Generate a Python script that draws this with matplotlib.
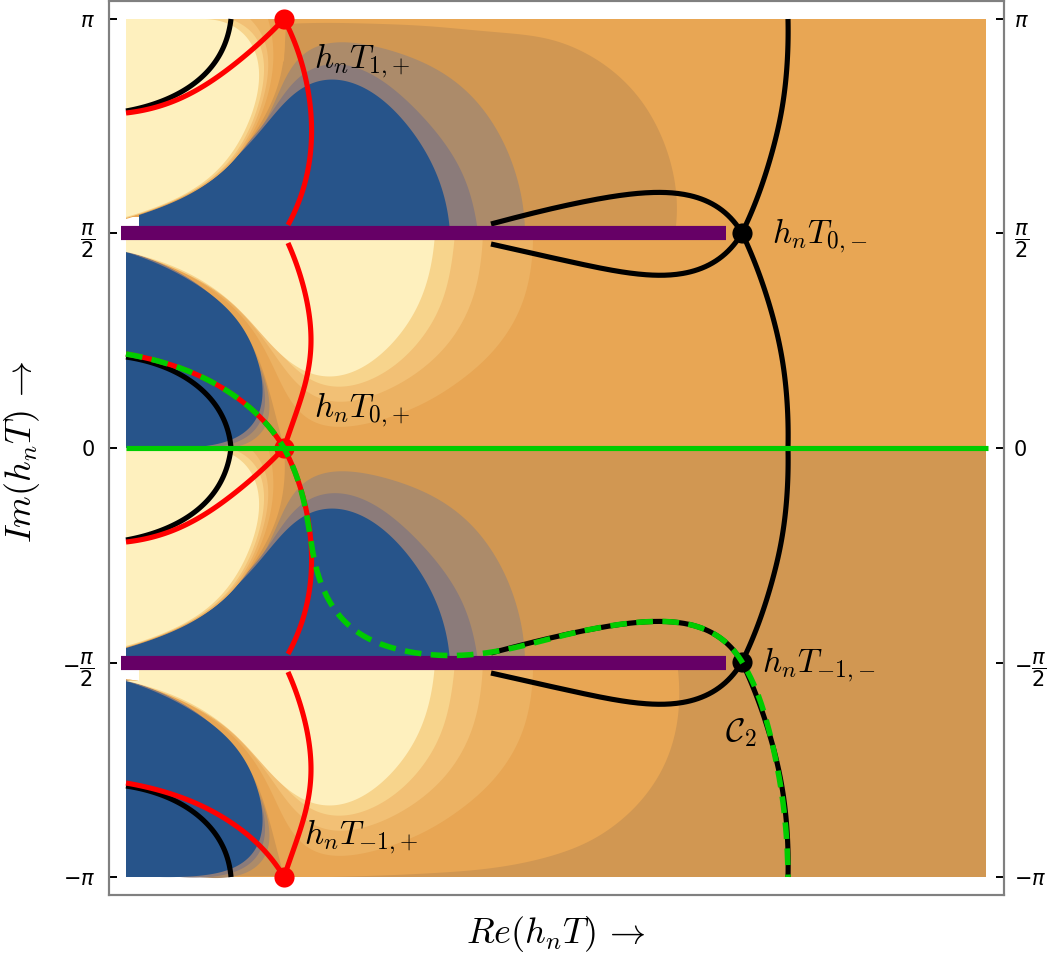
import numpy as np
import matplotlib
matplotlib.use('Agg')
import matplotlib.pyplot as plt

plt.rcParams['mathtext.fontset'] = 'cm'

# everything below: Re along x, Im as a reading that im() turns into radians
STRIP = 429  # one period in Im, the lower strip repeats the upper one

# upper half of a strip, above the cut
dark_up_x = [675, 678, 669, 644, 607, 553, 480, 433, 350, 300, 286]
dark_up_y = [233, 204, 153, 102, 65, 38, 31, 26, 23, 23, 24]
tan_up_x = [525, 523, 507, 477, 440, 400, 367, 333, 310, 293, 280, 263, 240]
tan_up_y = [233, 200, 147, 100, 70, 53, 45, 42, 47, 62, 93, 127, 155]
gray_up_x = [478, 467, 443, 410, 377, 350, 330, 300, 287, 267, 240]
gray_up_y = [233, 180, 140, 103, 77, 65, 63, 73, 90, 122, 150]
blue_up_x = [450, 447, 437, 417, 387, 360, 330, 307, 287, 267, 233, 200, 167, 139]
blue_up_y = [233, 207, 173, 137, 103, 85, 78, 83, 100, 125, 160, 187, 203, 212]
wedge_up_x = [284, 284, 284, 279, 268, 250, 233, 205, 170, 126]
wedge_up_y = [19, 30, 60, 85, 110, 140, 162, 186, 204, 219]
band3_up_x = [268, 273, 273, 267, 255, 235, 207, 170, 126]
band3_up_y = [19, 35, 70, 100, 128, 161, 184, 203, 218]
band2_up_x = [250, 263, 268, 268, 263, 252, 233, 206, 170, 126]
band2_up_y = [19, 32, 50, 70, 100, 130, 161, 183, 203, 218]
band1_up_x = [230, 255, 263, 264, 260, 249, 231, 206, 170, 126]
band1_up_y = [19, 32, 50, 70, 100, 130, 161, 183, 203, 218]
cream_up_x = [200, 228, 245, 256, 260, 256, 245, 228, 205, 170, 126]
cream_up_y = [19, 23, 33, 50, 70, 100, 130, 160, 182, 202, 217]

# lower half of a strip, below the cut
blob_lo_x = [677, 680, 667, 637, 590, 530, 480, 400, 330]
blob_lo_y = [233, 281, 334, 378, 414, 433, 441, 446, 448]
dark_lo_x = [126, 170, 205, 236, 255, 268, 275, 284]
dark_lo_y = [250, 267, 290, 318, 350, 385, 415, 447]
tan_lo_x = [126, 170, 205, 232, 250, 262, 270, 270, 262, 245, 200]
tan_lo_y = [251, 267, 290, 316, 345, 375, 400, 420, 438, 445, 448]
gray_lo_x = [126, 170, 203, 228, 248, 259, 266, 263, 250, 228, 180]
gray_lo_y = [251, 267, 288, 310, 340, 370, 397, 423, 438, 445, 448]
blue_lo_x = [126, 167, 200, 227, 247, 258, 263, 260, 247, 227, 200, 160]
blue_lo_y = [252, 267, 287, 307, 333, 363, 397, 417, 433, 442, 446, 448]
band3_lo_x = [533, 533, 523, 490, 433, 383, 333, 303, 287, 273, 250, 220, 180, 126]
band3_lo_y = [233, 253, 307, 357, 400, 420, 428, 420, 393, 365, 325, 295, 270, 250]
band2_lo_x = [483, 477, 453, 413, 370, 335, 310, 290, 272, 250, 220, 180, 126]
band2_lo_y = [233, 290, 340, 377, 397, 403, 397, 375, 350, 322, 293, 269, 250]
band1_lo_x = [455, 447, 433, 400, 363, 335, 312, 292, 270, 245, 217, 180, 126]
band1_lo_y = [233, 290, 323, 363, 383, 388, 383, 365, 340, 314, 291, 270, 251]
cream_lo_x = [435, 433, 430, 417, 393, 363, 330, 307, 287, 267, 243, 217, 183, 150, 126]
cream_lo_y = [233, 247, 273, 310, 343, 368, 379, 373, 360, 340, 313, 290, 270, 258, 252]

# steepest descent curves
red_a_x = [126, 167, 210, 243, 267, 284]
red_a_y = [113, 105, 83, 57, 37, 19]
red_b_x = [284, 293, 303, 310, 312, 307, 297, 288]
red_b_y = [19, 37, 67, 100, 140, 177, 207, 225]
red_c_x = [288, 300, 308, 312, 308, 300, 288, 284]
red_c_y = [243, 273, 307, 343, 373, 403, 433, 448]
red_d_x = [126, 167, 210, 243, 267, 284]
red_d_y = [354, 363, 380, 402, 423, 448]
black_a_x = [126, 167, 200, 220, 228, 231]
black_a_y = [111, 100, 80, 57, 33, 19]
black_b_x = [126, 167, 200, 220, 229, 231]
black_b_y = [357, 367, 387, 410, 433, 448]
spine_up_x = [788, 788, 783, 772, 757, 742]
spine_up_y = [19, 53, 107, 153, 200, 233]
spine_lo_x = [742, 757, 772, 783, 788, 788]
spine_lo_y = [233, 267, 313, 360, 413, 448]
loop_top_x = [491, 553, 619, 666, 699, 724, 742]
loop_top_y = [224, 208, 195, 192, 197, 210, 233]
loop_bot_x = [491, 553, 619, 670, 706, 728, 742]
loop_bot_y = [244, 258, 272, 276, 268, 252, 233]

# contour C2, dashed on top of the others
c2_a_x = [126, 167, 210, 243, 267, 284]
c2_a_y = [354, 363, 380, 402, 423, 448]
c2_b_x = [284, 293, 304, 308, 312, 317, 327, 340, 353, 373, 397, 420, 447,
          467, 493, 533, 553, 619, 666, 699, 724, 742]
c2_b_y = [448, 466, 500, 520, 550, 573, 597, 617, 630, 642, 648, 654, 656,
          655, 652, 644, 637, 624, 621, 626, 639, 662]
c2_c_x = [742, 754, 763, 772, 779, 785, 787, 788]
c2_c_y = [662, 682, 710, 742, 775, 817, 845, 877]

saddle_x = [284, 284, 284]
saddle_y = [19, 448, 877]
branch_x = [742, 742]
branch_y = [233, 662]

tick_values = [np.pi, np.pi / 2, 0, -np.pi / 2, -np.pi]
tick_labels = [r'$\pi$', r'$\dfrac{\pi}{2}$', '0', r'$-\dfrac{\pi}{2}$', r'$-\pi$']

point_labels = [r'$h_nT_{1,\!+}$', r'$h_nT_{0,\!+}$', r'$h_nT_{-1,\!+}$', r'$h_nT_{0,\!-}$', r'$h_nT_{-1,\!-}$', r'$\mathcal{C}_2$']
label_x = [314, 314, 304, 772, 762, 725]
label_y = [68, 417, 844, 243, 672, 741]

CREAM = '#FEF0BE'
BAND1 = '#F7D48C'
BAND2 = '#F2C075'
BAND3 = '#ECB263'
ORANGE = '#E8A654'
DARK = '#D19752'
TAN = '#AC8B6A'
GRAY = '#8B7B7A'
BLUE = '#27548A'
PURPLE = '#660066'
RED = '#FF0000'
GREEN = '#00CC00'


def im(y):
    return (448 - np.asarray(y, dtype=float)) * np.pi / STRIP


# readings are a few px off, so run a whittaker smoother along the polyline instead of
# passing exactly through them (ends stay where they were read)
def smooth(xs, ys, scale=120):
    xs = np.asarray(xs, dtype=float)
    ys = np.asarray(ys, dtype=float)
    s = np.r_[0, np.cumsum(np.hypot(np.diff(xs), np.diff(ys)))]
    n = max(int(s[-1] / 2), 12)
    t = np.linspace(0, s[-1], n)
    h = t[1] - t[0]
    D = np.diff(np.eye(n), 3, axis=0)
    w = np.ones(n)
    w[0] = w[-1] = 1e4
    A = np.diag(w) + (scale / (2 * np.pi * h)) ** 6 * D.T @ D
    return (np.linalg.solve(A, w * np.interp(t, s, xs)),
            np.linalg.solve(A, w * np.interp(t, s, ys)))


def region(ax, xs, ys, color, dy, tail, z):
    sx, sy = smooth(xs, ys)
    tx = [c[0] for c in tail]
    ty = [c[1] for c in tail]
    ax.fill(np.r_[sx, tx], im(np.r_[sy, ty] + dy), color=color, lw=0, zorder=z)


def curve(ax, xs, ys, color, dy=0, z=10, **kw):
    sx, sy = smooth(xs, ys)
    ax.plot(sx, im(sy + dy), color=color, lw=3.7, solid_capstyle='butt', zorder=z, **kw)


fig = plt.figure(figsize=(10.52, 9.61), dpi=100)
ax = fig.add_axes([109 / 1052, 66 / 961, 895 / 1052, 894 / 961])
ax.set_xlim(109, 1004)
ax.set_ylim(im(895), im(1))

for k, dy in enumerate([0, STRIP]):
    lower = k == 1

    # part above the cut
    base = DARK if lower else ORANGE
    if lower:
        ax.fill([126, 986, 986, 126], im(np.array([19, 19, 233, 233]) + dy), color=base, lw=0, zorder=1)
    else:
        ax.fill([126, 986, 986, 139, 139, 126], im(np.array([19, 19, 233, 233, 217, 217]) + dy),
                color=base, lw=0, zorder=1)
    region(ax, dark_up_x, dark_up_y, DARK, dy, [(284, 60), (250, 140), (139, 233)], 2)
    region(ax, tan_up_x, tan_up_y, TAN, dy, [(139, 233)], 3)
    region(ax, gray_up_x, gray_up_y, GRAY, dy, [(139, 233)], 4)
    if lower:
        region(ax, blue_up_x, blue_up_y, BLUE, dy, [(126, 215), (126, 233)], 5)
    else:
        region(ax, blue_up_x, blue_up_y, BLUE, dy, [(139, 233)], 5)
    region(ax, wedge_up_x, wedge_up_y, ORANGE, dy, [(126, 19)], 6)
    region(ax, band3_up_x, band3_up_y, BAND3, dy, [(126, 19)], 7)
    region(ax, band2_up_x, band2_up_y, BAND2, dy, [(126, 19)], 8)
    region(ax, band1_up_x, band1_up_y, BAND1, dy, [(126, 19)], 8.5)
    region(ax, cream_up_x, cream_up_y, CREAM, dy, [(126, 19)], 9)

    # part below the cut
    if lower:
        ax.fill([139, 986, 986, 126, 126, 139], im(np.array([233, 233, 448, 448, 252, 252]) + dy),
                color=DARK, lw=0, zorder=1)
        region(ax, blob_lo_x, blob_lo_y, ORANGE, dy, [(126, 448), (126, 252), (139, 252), (139, 233)], 1.5)
    else:
        ax.fill([126, 986, 986, 126], im(np.array([233, 233, 448, 448]) + dy), color=ORANGE, lw=0, zorder=1)
    region(ax, dark_lo_x, dark_lo_y, DARK, dy, [(126, 448)], 2)
    region(ax, tan_lo_x, tan_lo_y, TAN, dy, [(126, 448)], 3)
    region(ax, gray_lo_x, gray_lo_y, GRAY, dy, [(126, 448)], 4)
    region(ax, blue_lo_x, blue_lo_y, BLUE, dy, [(126, 448)], 5)
    left = 139 if lower else 126
    region(ax, band3_lo_x, band3_lo_y, BAND3, dy, [(left, 252), (left, 233)], 7)
    region(ax, band2_lo_x, band2_lo_y, BAND2, dy, [(left, 252), (left, 233)], 8)
    region(ax, band1_lo_x, band1_lo_y, BAND1, dy, [(left, 252), (left, 233)], 8.5)
    region(ax, cream_lo_x, cream_lo_y, CREAM, dy, [(left, 252), (left, 233)], 9)

    curve(ax, black_a_x, black_a_y, 'black', dy)
    curve(ax, black_b_x, black_b_y, 'black', dy)
    curve(ax, spine_up_x, spine_up_y, 'black', dy)
    curve(ax, spine_lo_x, spine_lo_y, 'black', dy)
    curve(ax, loop_top_x, loop_top_y, 'black', dy)
    curve(ax, loop_bot_x, loop_bot_y, 'black', dy)
    curve(ax, red_a_x, red_a_y, RED, dy, z=11)
    curve(ax, red_b_x, red_b_y, RED, dy, z=11)
    curve(ax, red_c_x, red_c_y, RED, dy, z=11)
    curve(ax, red_d_x, red_d_y, RED, dy, z=11)

    # branch cut
    ax.plot([121, 726], im(np.array([233.5, 233.5]) + dy), color=PURPLE, lw=10.2,
            solid_capstyle='butt', zorder=12)

ax.plot(saddle_x, im(saddle_y), 'o', color=RED, ms=14.5, mew=0, zorder=13)
ax.plot(branch_x, im(branch_y), 'o', color='black', ms=14.5, mew=0, zorder=13)

ax.plot([126, 988], [0, 0], color=GREEN, lw=3.7, solid_capstyle='butt', zorder=14)
ax_x = []
ax_y = []
for px, py in [(c2_a_x, c2_a_y), (c2_b_x, c2_b_y), (c2_c_x, c2_c_y)]:
    sx, sy = smooth(px, py)
    ax_x.append(sx)
    ax_y.append(sy)
ax.plot(np.concatenate(ax_x), im(np.concatenate(ax_y)), color=GREEN, lw=4, dashes=(3, 1.7),
        dash_capstyle='butt', zorder=15)

for s, x, y in zip(point_labels, label_x, label_y):
    ax.text(x, im(y), s, fontsize=24, color='black', va='baseline', ha='left', zorder=16)

ax.set_xticks([])
ax.set_yticks(tick_values)
ax.set_yticklabels(tick_labels)
ax.tick_params(axis='y', direction='in', length=5.5, width=1.4, color='black', pad=10,
               left=True, labelleft=True, right=False, labelright=False, labelsize=15)

# right side gets its own pad
ax2 = ax.twinx()
ax2.set_ylim(ax.get_ylim())
ax2.set_yticks(tick_values)
ax2.set_yticklabels(tick_labels)
ax2.tick_params(axis='y', direction='in', length=5.5, width=1.4, color='black', pad=7, labelsize=15)

for lab in ax.get_yticklabels() + ax2.get_yticklabels():
    lab.set_math_fontfamily('dejavusans')
for a in [ax, ax2]:
    for sp in a.spines.values():
        sp.set_color('#808080')
        sp.set_linewidth(1.5)

fig.text(556 / 1052, 1 - 934 / 961, r'$Re(h_nT)\,\rightarrow$', fontsize=26, ha='center', va='center')
fig.text(22 / 1052, 1 - 452 / 961, r'$Im(h_nT)\,\rightarrow$', fontsize=26, ha='center', va='center',
         rotation=90)

fig.savefig('out.png', dpi=100)
